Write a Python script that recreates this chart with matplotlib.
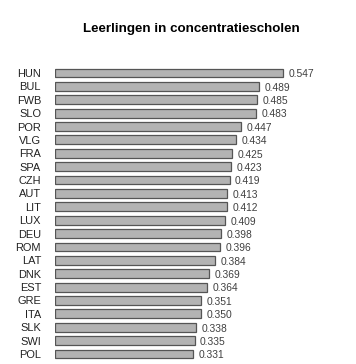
import numpy as np
import matplotlib.pyplot as plt

plt.rcParams['font.family'] = ['Liberation Sans', 'DejaVu Sans']

landen = ['HUN', 'BUL', 'FWB', 'SLO', 'POR', 'VLG', 'FRA', 'SPA', 'CZH', 'AUT',
          'LIT', 'LUX', 'DEU', 'ROM', 'LAT', 'DNK', 'EST', 'GRE', 'ITA', 'SLK',
          'SWI', 'POL']
waarden = [0.547, 0.489, 0.485, 0.483, 0.447, 0.434, 0.425, 0.423, 0.419, 0.413,
           0.412, 0.409, 0.398, 0.396, 0.384, 0.369, 0.364, 0.351, 0.350, 0.338,
           0.335, 0.331]

W, H = 356, 364
fig = plt.figure(figsize=(W / 100, H / 100), dpi=100)
fig.patch.set_facecolor('white')

n = len(landen)
spacing = (354 - 73) / (n - 1)
top = 73 - spacing / 2
bottom = 354 + spacing / 2
ax = fig.add_axes([55 / W, 1 - bottom / H, (340 - 55) / W, (bottom - top) / H])

y = np.arange(n)
ax.barh(y, waarden, height=0.66, color='#b3b3b3', edgecolor='#555555', linewidth=0.9)
for yi, v in zip(y, waarden):
    ax.text(v + 0.013, yi + 0.1, f'{v:.3f}', va='center', ha='left',
            fontsize=7.4, color='#404040')

ax.set_xlim(0, (340 - 55) / ((283 - 55) / 0.547))
ax.set_ylim(n - 0.5, -0.5)
ax.set_yticks(y)
ax.set_yticklabels(landen, fontsize=7.9, color='#222222')
ax.tick_params(axis='y', length=0, pad=10)
ax.set_xticks([])
for s in ax.spines.values():
    s.set_visible(False)

fig.text(191 / W, 1 - 29 / H, 'Leerlingen in concentratiescholen', ha='center', va='center',
         fontsize=9.6, fontweight='bold')

fig.savefig('out.png', dpi=100)
